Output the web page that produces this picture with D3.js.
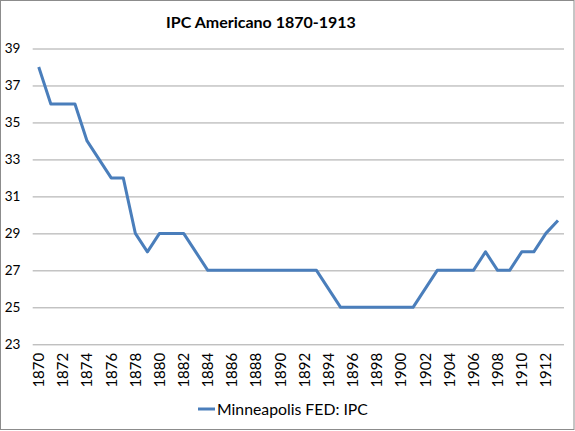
<!DOCTYPE html>
<html lang="es">
  <head>
    <meta charset="utf-8">
    <script type="text/javascript" src="https://cdn.jsdelivr.net/npm/d3@7"></script>
    <style>
      body { margin: 0; background: #fff; }
      text { font-family: Lato, "Open Sans", sans-serif; fill: #000; }
    </style>
  </head>
  <body>
  <script type="text/javascript">

    // years on the category axis, one value per year
    var years = d3.range(1870, 1914);
    var ipc = [38, 36, 36, 36, 34, 33, 32, 32, 29, 28,
               29, 29, 29, 28, 27, 27, 27, 27, 27, 27,
               27, 27, 27, 27, 26, 25, 25, 25, 25, 25,
               25, 25, 26, 27, 27, 27, 27, 28, 27, 27,
               28, 28, 29, 29.7];
    var yTicks = [23, 25, 27, 29, 31, 33, 35, 37, 39];
    var title = "IPC Americano 1870-1913";
    var seriesName = "Minneapolis FED: IPC";

    var W = 575, H = 431;
    var plot = {left: 32.7, right: 564, top: 48.5, bottom: 344.3};

    var svg = d3.select("body").append("svg")
      .attr("width", W).attr("height", H);

    svg.append("rect")
      .attr("x", 0.5).attr("y", 0.5)
      .attr("width", W - 1.5).attr("height", H - 2)
      .attr("fill", "#fff").attr("stroke", "#8c8c8c");

    var x = d3.scaleBand().domain(years).range([plot.left, plot.right]).padding(0);
    var y = d3.scaleLinear().domain([23, 39]).range([plot.bottom, plot.top]);

    // gridlines + y labels
    var yAxis = d3.axisLeft(y).tickValues(yTicks).tickSize(-(plot.right - plot.left)).tickPadding(8);
    var gy = svg.append("g")
      .attr("transform", "translate(" + plot.left + ",0)")
      .call(yAxis);
    gy.select(".domain").remove();
    gy.selectAll(".tick line").attr("stroke", "#a6a6a6").attr("stroke-width", 1);
    gy.selectAll(".tick text")
      .attr("x", -28).attr("text-anchor", "start")
      .style("font-size", "13.5px");

    // x labels, every other year
    var xAxis = d3.axisBottom(x).tickValues(years.filter(function(d){ return d % 2 == 0; })).tickSize(0);
    var gx = svg.append("g")
      .attr("transform", "translate(0," + plot.bottom + ")")
      .call(xAxis);
    gx.select(".domain").remove();
    gx.selectAll(".tick text")
      .attr("transform", "rotate(-90)")
      .attr("text-anchor", "end")
      .attr("x", -8.5).attr("y", 0).attr("dy", "0.36em")
      .style("font-size", "15px");

    var line = d3.line()
      .x(function(d, i){ return x(years[i]) + x.bandwidth() / 2; })
      .y(function(d){ return y(d); });

    svg.append("path")
      .datum(ipc)
      .attr("d", line)
      .attr("fill", "none")
      .attr("stroke", "#4a7ebb")
      .attr("stroke-width", 3)
      .attr("stroke-linejoin", "round");

    svg.append("text")
      .attr("x", 261).attr("y", 28)
      .attr("text-anchor", "middle")
      .style("font-size", "16px").style("font-weight", "bold")
      .text(title);

    // legend
    svg.append("line")
      .attr("x1", 198).attr("x2", 215).attr("y1", 409).attr("y2", 409)
      .attr("stroke", "#4a7ebb").attr("stroke-width", 3);
    svg.append("text")
      .attr("x", 217).attr("y", 414.5)
      .style("font-size", "15.8px")
      .text(seriesName);

  </script>
  </body>
</html>
